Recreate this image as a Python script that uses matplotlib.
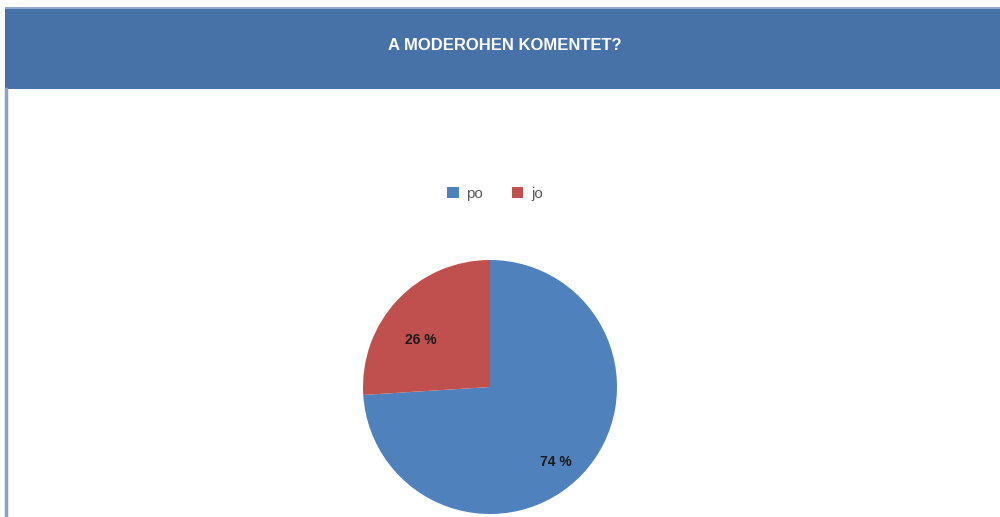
import numpy as np
import matplotlib.pyplot as plt
from matplotlib.patches import Rectangle
from matplotlib.lines import Line2D

# Data
labels = ['po', 'jo']
values = [74, 26]
colors = ['#4F81BD', '#C0504D']
title = "A MODEROHEN KOMENTET?"

fig = plt.figure(figsize=(10, 5.17), dpi=100)
fig.patch.set_facecolor('white')

# Header band
W, H = 1000, 517
fig.patches.append(Rectangle((5 / W, 1 - 89 / H), 1 - 5 / W, 82 / H,
                             transform=fig.transFigure, facecolor='#4672A7',
                             edgecolor='none', zorder=0))
fig.patches.append(Rectangle((5 / W, 1 - 9 / H), 1 - 5 / W, 2 / H,
                             transform=fig.transFigure, facecolor='#8FA9CC',
                             edgecolor='none', zorder=1))
# left border line
fig.lines.append(Line2D([5.5 / W, 5.5 / W], [0, 1 - 89 / H], transform=fig.transFigure,
                        color='#8AA3CA', linewidth=2.5))

fig.text(505 / W, 1 - 45 / H, title, ha='center', va='center', color='white',
         fontsize=12, fontweight='bold',
         family=['Liberation Sans Narrow', 'Liberation Sans', 'DejaVu Sans'])

# Pie
ax = fig.add_axes([(490 - 127) / W, 1 - 514 / H, 254 / W, 254 / H])
wedges, _ = ax.pie(values, colors=colors, startangle=90, counterclock=False,
                   radius=1, wedgeprops=dict(linewidth=0))
ax.set_xlim(-1, 1)
ax.set_ylim(-1, 1)
ax.set_aspect('equal')
ax.axis('off')

# percentage labels near wedge mid-angles
dists = [0.79, 0.66]
shifts = [-5.5, 9.0]
for w, v, d, s in zip(wedges, values, dists, shifts):
    ang = np.deg2rad((w.theta1 + w.theta2) / 2 + s)
    ax.text(d * np.cos(ang), d * np.sin(ang), f"{v} %", ha='center', va='center',
            fontsize=10, fontweight='bold', color='#1a1a1a',
            family=['Liberation Sans', 'DejaVu Sans'])

fig.legend(wedges, labels, loc='center', bbox_to_anchor=(495 / W, 1 - 194 / H),
           ncol=2, frameon=False, handlelength=0.75, handleheight=0.75,
           handletextpad=0.5, columnspacing=1.9,
           prop=dict(size=11, family=['Liberation Sans', 'DejaVu Sans']),
           labelcolor='#595959')

fig.savefig('out.png', dpi=100, facecolor='white')
